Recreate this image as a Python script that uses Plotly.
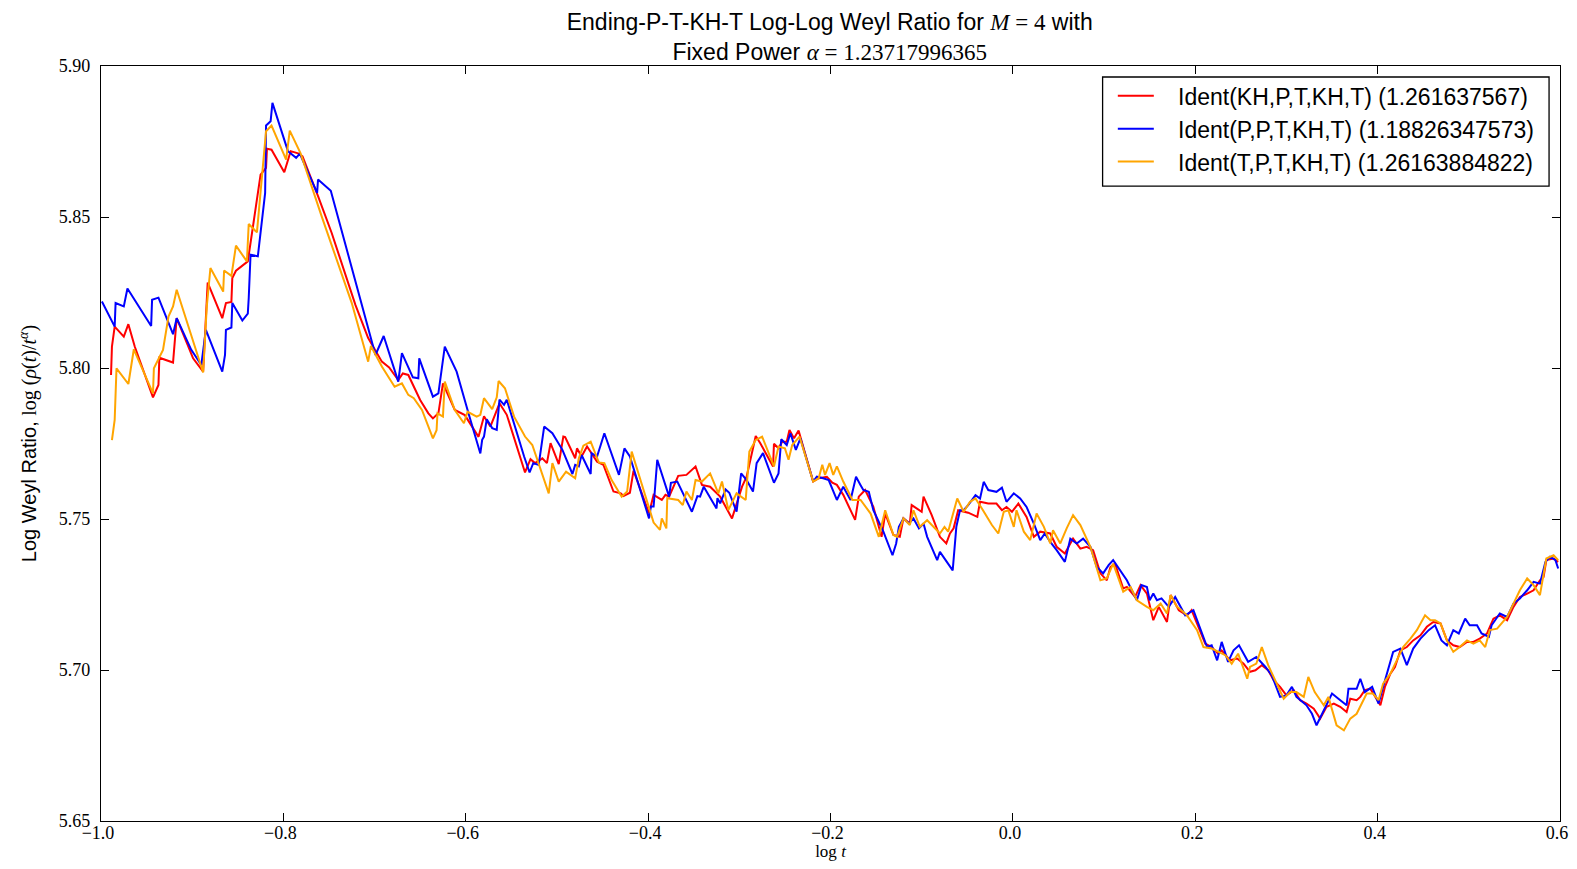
import plotly.graph_objects as go

# Ident(KH,P,T,KH,T)
red_x = [-0.989, -0.988, -0.985, -0.975, -0.970, -0.963, -0.943, -0.937, -0.936, -0.921, -0.917, -0.899,
         -0.888, -0.883, -0.867, -0.863, -0.857, -0.856, -0.852, -0.839, -0.825, -0.819, -0.818, -0.813,
         -0.799, -0.792, -0.783, -0.779, -0.762, -0.747, -0.721, -0.707, -0.692, -0.684, -0.674, -0.669,
         -0.663, -0.650, -0.641, -0.636, -0.630, -0.625, -0.612, -0.601, -0.586, -0.580, -0.573, -0.569,
         -0.563, -0.555, -0.535, -0.529, -0.524, -0.516, -0.511, -0.507, -0.498, -0.493, -0.491, -0.480,
         -0.478, -0.473, -0.467, -0.456, -0.449, -0.438, -0.430, -0.427, -0.420, -0.416, -0.399, -0.394,
         -0.385, -0.381, -0.377, -0.367, -0.358, -0.348, -0.341, -0.332, -0.321, -0.308, -0.303, -0.297,
         -0.292, -0.287, -0.282, -0.277, -0.263, -0.262, -0.257, -0.253, -0.248, -0.245, -0.240, -0.235,
         -0.219, -0.213, -0.204, -0.198, -0.193, -0.186, -0.173, -0.169, -0.166, -0.162, -0.153, -0.144,
         -0.140, -0.131, -0.124, -0.120, -0.113, -0.111, -0.100, -0.098, -0.089, -0.080, -0.073, -0.069,
         -0.065, -0.060, -0.049, -0.039, -0.036, -0.027, -0.018, -0.012, -0.007, -0.001, 0.006, 0.015,
         0.023, 0.030, 0.041, 0.048, 0.057, 0.066, 0.074, 0.081, 0.088, 0.096, 0.103, 0.107, 0.112,
         0.121, 0.125, 0.134, 0.140, 0.147, 0.154, 0.160, 0.169, 0.173, 0.182, 0.191, 0.196, 0.202,
         0.211, 0.218, 0.225, 0.229, 0.238, 0.246, 0.253, 0.260, 0.266, 0.273, 0.280, 0.286, 0.293,
         0.300, 0.308, 0.315, 0.322, 0.330, 0.337, 0.344, 0.352, 0.359, 0.366, 0.370, 0.377, 0.381,
         0.386, 0.392, 0.399, 0.403, 0.408, 0.414, 0.419, 0.425, 0.432, 0.439, 0.447, 0.454, 0.461,
         0.469, 0.476, 0.483, 0.490, 0.498, 0.505, 0.512, 0.520, 0.527, 0.534, 0.542, 0.549, 0.556,
         0.564, 0.571, 0.578, 0.582, 0.585, 0.593, 0.598]
red_y = [5.7977, 5.8071, 5.8137, 5.8104, 5.8145, 5.8071, 5.7903, 5.7944, 5.8034, 5.8018, 5.8165, 5.8032,
         5.7988, 5.8283, 5.8165, 5.8215, 5.8219, 5.8298, 5.8322, 5.8353, 5.8640, 5.8663, 5.8726, 5.8723,
         5.8648, 5.8718, 5.8710, 5.8701, 5.8569, 5.8447, 5.8209, 5.8099, 5.8021, 5.8002, 5.7960, 5.7982,
         5.7977, 5.7894, 5.7850, 5.7833, 5.7850, 5.7949, 5.7861, 5.7844, 5.7772, 5.7840, 5.7806, 5.7839,
         5.7883, 5.7845, 5.7654, 5.7698, 5.7685, 5.7701, 5.7685, 5.7751, 5.7682, 5.7773, 5.7771, 5.7701,
         5.7734, 5.7707, 5.7740, 5.7690, 5.7679, 5.7591, 5.7585, 5.7576, 5.7587, 5.7660, 5.7519, 5.7580,
         5.7563, 5.7580, 5.7574, 5.7643, 5.7646, 5.7674, 5.7613, 5.7607, 5.7574, 5.7502, 5.7552, 5.7607,
         5.7640, 5.7712, 5.7775, 5.7751, 5.7674, 5.7749, 5.7734, 5.7756, 5.7756, 5.7795, 5.7767, 5.7793,
         5.7624, 5.7635, 5.7640, 5.7620, 5.7613, 5.7580, 5.7497, 5.7574, 5.7585, 5.7596, 5.7540, 5.7441,
         5.7518, 5.7447, 5.7441, 5.7502, 5.7485, 5.7546, 5.7524, 5.7574, 5.7513, 5.7441, 5.7419, 5.7452,
         5.7469, 5.7529, 5.7521, 5.7507, 5.7557, 5.7551, 5.7551, 5.7529, 5.7540, 5.7524, 5.7551, 5.7507,
         5.7441, 5.7458, 5.7452, 5.7408, 5.7386, 5.7435, 5.7402, 5.7408, 5.7397, 5.7320, 5.7297, 5.7341, 5.7352,
         5.7270, 5.7275, 5.7242, 5.7281, 5.7253, 5.7165, 5.7209, 5.7159, 5.7248, 5.7198, 5.7181, 5.7198, 5.7154,
         5.7087, 5.7076, 5.7054, 5.7065, 5.7032, 5.7038, 5.7021, 5.6994, 5.6999, 5.7016, 5.6999, 5.6966, 5.6944,
         5.6916, 5.6933, 5.6900, 5.6889, 5.6872, 5.6839, 5.6878, 5.6889, 5.6878, 5.6861, 5.6905, 5.6900, 5.6911,
         5.6933, 5.6938, 5.6900, 5.6883, 5.6944, 5.6988, 5.7010, 5.7065, 5.7076, 5.7098, 5.7115, 5.7143, 5.7159,
         5.7154, 5.7098, 5.7082, 5.7076, 5.7093, 5.7093, 5.7104, 5.7121, 5.7170, 5.7181, 5.7165, 5.7209, 5.7242,
         5.7253, 5.7264, 5.7297, 5.7308, 5.7364, 5.7369, 5.7358]

# Ident(P,P,T,KH,T)
blue_x = [-0.999, -0.985, -0.984, -0.975, -0.971, -0.955, -0.945, -0.944, -0.937, -0.921, -0.917, -0.901,
          -0.890, -0.885, -0.867, -0.864, -0.863, -0.857, -0.856, -0.845, -0.839, -0.838, -0.836, -0.828,
          -0.826, -0.820, -0.819, -0.814, -0.812, -0.795, -0.786, -0.782, -0.763, -0.762, -0.748, -0.699,
          -0.690, -0.674, -0.670, -0.658, -0.652, -0.651, -0.636, -0.630, -0.623, -0.610, -0.597, -0.584,
          -0.582, -0.580, -0.577, -0.571, -0.566, -0.563, -0.558, -0.555, -0.536, -0.530, -0.526, -0.520,
          -0.514, -0.505, -0.494, -0.483, -0.480, -0.476, -0.473, -0.463, -0.462, -0.456, -0.452, -0.448,
          -0.432, -0.426, -0.420, -0.399, -0.397, -0.394, -0.390, -0.377, -0.375, -0.368, -0.352, -0.346,
          -0.343, -0.339, -0.325, -0.324, -0.321, -0.315, -0.311, -0.303, -0.298, -0.292, -0.285, -0.281,
          -0.274, -0.262, -0.257, -0.254, -0.248, -0.244, -0.238, -0.233, -0.219, -0.215, -0.208, -0.202,
          -0.193, -0.186, -0.178, -0.172, -0.167, -0.164, -0.158, -0.153, -0.142, -0.132, -0.128, -0.125,
          -0.120, -0.114, -0.109, -0.103, -0.098, -0.094, -0.083, -0.080, -0.066, -0.062, -0.058, -0.054,
          -0.049, -0.041, -0.036, -0.032, -0.027, -0.018, -0.012, -0.007, 0.001, 0.008, 0.015, 0.023,
          0.030, 0.035, 0.041, 0.048, 0.057, 0.063, 0.070, 0.077, 0.085, 0.092, 0.099, 0.105, 0.110,
          0.118, 0.125, 0.136, 0.141, 0.147, 0.150, 0.154, 0.158, 0.163, 0.171, 0.178, 0.183, 0.189,
          0.198, 0.205, 0.213, 0.218, 0.224, 0.229, 0.236, 0.242, 0.248, 0.258, 0.267, 0.277, 0.284,
          0.293, 0.300, 0.306, 0.311, 0.322, 0.328, 0.333, 0.341, 0.350, 0.357, 0.366, 0.368, 0.377,
          0.381, 0.386, 0.394, 0.401, 0.406, 0.412, 0.417, 0.425, 0.432, 0.439, 0.447, 0.456, 0.463,
          0.470, 0.476, 0.483, 0.489, 0.496, 0.501, 0.509, 0.514, 0.522, 0.525, 0.534, 0.542, 0.549,
          0.556, 0.564, 0.571, 0.578, 0.584, 0.589, 0.595, 0.598]
blue_y = [5.8220, 5.8137, 5.8215, 5.8204, 5.8263, 5.8187, 5.8139, 5.8226, 5.8233, 5.8112, 5.8165, 5.8060,
          5.8010, 5.8126, 5.7988, 5.8043, 5.8126, 5.8134, 5.8215, 5.8157, 5.8180, 5.8231, 5.8375, 5.8370,
          5.8419, 5.8580, 5.8803, 5.8817, 5.8878, 5.8718, 5.8696, 5.8710, 5.8580, 5.8624, 5.8587, 5.8043,
          5.8106, 5.7955, 5.8049, 5.7969, 5.7966, 5.8032, 5.7905, 5.7916, 5.8071, 5.7988, 5.7850, 5.7717,
          5.7762, 5.7773, 5.7830, 5.7801, 5.7795, 5.7895, 5.7878, 5.7895, 5.7707, 5.7654, 5.7685, 5.7679,
          5.7806, 5.7784, 5.7729, 5.7649, 5.7679, 5.7674, 5.7712, 5.7649, 5.7718, 5.7707, 5.7745, 5.7784,
          5.7646, 5.7734, 5.7707, 5.7502, 5.7541, 5.7541, 5.7696, 5.7574, 5.7620, 5.7624, 5.7524, 5.7576,
          5.7574, 5.7607, 5.7535, 5.7569, 5.7552, 5.7598, 5.7587, 5.7524, 5.7651, 5.7629, 5.7591, 5.7685,
          5.7718, 5.7620, 5.7651, 5.7764, 5.7745, 5.7784, 5.7729, 5.7767, 5.7624, 5.7640, 5.7635, 5.7629,
          5.7563, 5.7607, 5.7563, 5.7640, 5.7612, 5.7596, 5.7590, 5.7529, 5.7458, 5.7380, 5.7419, 5.7474,
          5.7502, 5.7485, 5.7502, 5.7469, 5.7485, 5.7441, 5.7364, 5.7391, 5.7330, 5.7474, 5.7529, 5.7529,
          5.7546, 5.7579, 5.7568, 5.7623, 5.7596, 5.7590, 5.7604, 5.7557, 5.7585, 5.7568, 5.7540, 5.7485,
          5.7430, 5.7452, 5.7424, 5.7397, 5.7358, 5.7435, 5.7419, 5.7435, 5.7408, 5.7341, 5.7320, 5.7347, 5.7364,
          5.7330, 5.7297, 5.7231, 5.7281, 5.7275, 5.7231, 5.7253, 5.7231, 5.7237, 5.7209, 5.7242, 5.7215, 5.7181,
          5.7198, 5.7143, 5.7076, 5.7082, 5.7032, 5.7093, 5.7027, 5.7065, 5.7082, 5.7027, 5.7043, 5.7010, 5.6982,
          5.6911, 5.6916, 5.6944, 5.6911, 5.6883, 5.6855, 5.6817, 5.6866, 5.6922, 5.6905, 5.6883, 5.6938, 5.6938,
          5.6971, 5.6927, 5.6944, 5.6889, 5.6944, 5.7005, 5.7060, 5.7071, 5.7016, 5.7071, 5.7104, 5.7132, 5.7148,
          5.7098, 5.7082, 5.7132, 5.7121, 5.7170, 5.7148, 5.7148, 5.7121, 5.7110, 5.7148, 5.7187, 5.7176, 5.7220,
          5.7237, 5.7264, 5.7292, 5.7286, 5.7358, 5.7375, 5.7364, 5.7336]

# Ident(T,P,T,KH,T)
orange_x = [-0.988, -0.985, -0.983, -0.970, -0.964, -0.943, -0.942, -0.936, -0.932, -0.926, -0.921, -0.917,
            -0.888, -0.884, -0.880, -0.866, -0.865, -0.857, -0.852, -0.840, -0.838, -0.829, -0.822, -0.819,
            -0.813, -0.797, -0.793, -0.781, -0.758, -0.725, -0.707, -0.704, -0.692, -0.678, -0.670, -0.663,
            -0.657, -0.648, -0.636, -0.632, -0.631, -0.625, -0.623, -0.612, -0.602, -0.598, -0.588, -0.584,
            -0.580, -0.571, -0.566, -0.564, -0.557, -0.547, -0.535, -0.527, -0.509, -0.505, -0.498, -0.490,
            -0.480, -0.476, -0.471, -0.463, -0.454, -0.448, -0.440, -0.429, -0.423, -0.418, -0.405, -0.394,
            -0.387, -0.385, -0.380, -0.379, -0.367, -0.362, -0.358, -0.352, -0.348, -0.341, -0.332, -0.323,
            -0.319, -0.312, -0.303, -0.293, -0.289, -0.282, -0.275, -0.262, -0.257, -0.250, -0.246, -0.242,
            -0.234, -0.219, -0.213, -0.209, -0.206, -0.201, -0.197, -0.193, -0.186, -0.176, -0.167, -0.156,
            -0.147, -0.140, -0.131, -0.127, -0.120, -0.113, -0.109, -0.102, -0.094, -0.080, -0.075, -0.071,
            -0.061, -0.054, -0.047, -0.041, -0.034, -0.023, -0.016, -0.010, -0.005, 0.001, 0.004, 0.012,
            0.019, 0.026, 0.034, 0.041, 0.044, 0.052, 0.059, 0.066, 0.074, 0.085, 0.096, 0.103, 0.110,
            0.121, 0.129, 0.136, 0.147, 0.154, 0.162, 0.169, 0.173, 0.180, 0.183, 0.191, 0.202, 0.209,
            0.218, 0.225, 0.233, 0.240, 0.247, 0.257, 0.260, 0.267, 0.273, 0.280, 0.289, 0.297, 0.304,
            0.311, 0.319, 0.324, 0.331, 0.341, 0.346, 0.355, 0.363, 0.370, 0.377, 0.383, 0.388, 0.395,
            0.401, 0.406, 0.414, 0.421, 0.428, 0.436, 0.443, 0.452, 0.458, 0.463, 0.469, 0.476, 0.483,
            0.490, 0.498, 0.505, 0.512, 0.518, 0.523, 0.531, 0.542, 0.549, 0.556, 0.564, 0.571, 0.578,
            0.585, 0.593, 0.598]
orange_y = [5.7761, 5.7828, 5.7999, 5.7947, 5.8062, 5.7916, 5.7999, 5.8034, 5.8060, 5.8170, 5.8204, 5.8259,
            5.7985, 5.8204, 5.8331, 5.8253, 5.8323, 5.8305, 5.8405, 5.8353, 5.8477, 5.8449, 5.8679, 5.8784,
            5.8803, 5.8690, 5.8786, 5.8710, 5.8502, 5.8215, 5.8021, 5.8073, 5.8005, 5.7938, 5.7949, 5.7911,
            5.7900, 5.7861, 5.7767, 5.7794, 5.7850, 5.7839, 5.7955, 5.7861, 5.7817, 5.7855, 5.7839, 5.7845,
            5.7900, 5.7864, 5.7903, 5.7957, 5.7933, 5.7839, 5.7773, 5.7745, 5.7585, 5.7685, 5.7624, 5.7657,
            5.7635, 5.7701, 5.7743, 5.7756, 5.7687, 5.7685, 5.7629, 5.7574, 5.7591, 5.7723, 5.7596, 5.7488,
            5.7464, 5.7502, 5.7469, 5.7569, 5.7563, 5.7546, 5.7591, 5.7563, 5.7629, 5.7624, 5.7651, 5.7585,
            5.7624, 5.7530, 5.7585, 5.7563, 5.7723, 5.7762, 5.7773, 5.7674, 5.7740, 5.7734, 5.7696, 5.7745,
            5.7773, 5.7624, 5.7635, 5.7680, 5.7646, 5.7685, 5.7646, 5.7674, 5.7624, 5.7563, 5.7563, 5.7518,
            5.7441, 5.7529, 5.7447, 5.7441, 5.7502, 5.7480, 5.7529, 5.7474, 5.7496, 5.7452, 5.7474, 5.7458,
            5.7568, 5.7524, 5.7557, 5.7568, 5.7535, 5.7480, 5.7452, 5.7524, 5.7529, 5.7474, 5.7529, 5.7458,
            5.7430, 5.7518, 5.7474, 5.7419, 5.7463, 5.7419, 5.7469, 5.7513, 5.7480, 5.7408, 5.7297, 5.7303, 5.7352,
            5.7259, 5.7275, 5.7231, 5.7209, 5.7198, 5.7220, 5.7187, 5.7248, 5.7209, 5.7203, 5.7181, 5.7132, 5.7076,
            5.7071, 5.7060, 5.7049, 5.7021, 5.7054, 5.6971, 5.7010, 5.7021, 5.7076, 5.7016, 5.6955, 5.6905, 5.6927,
            5.6927, 5.6911, 5.6977, 5.6927, 5.6883, 5.6911, 5.6817, 5.6800, 5.6839, 5.6855, 5.6894, 5.6922, 5.6922,
            5.6900, 5.6955, 5.6988, 5.7032, 5.7076, 5.7104, 5.7132, 5.7181, 5.7165, 5.7165, 5.7154, 5.7098, 5.7060,
            5.7076, 5.7098, 5.7087, 5.7098, 5.7076, 5.7132, 5.7137, 5.7176, 5.7220, 5.7264, 5.7303, 5.7281, 5.7248,
            5.7369, 5.7380, 5.7364]

series = [
    ("Ident(KH,P,T,KH,T) (1.261637567)", red_x, red_y, "#ff0000"),
    ("Ident(P,P,T,KH,T) (1.18826347573)", blue_x, blue_y, "#0000ff"),
    ("Ident(T,P,T,KH,T) (1.26163884822)", orange_x, orange_y, "#ffa500"),
]

x_ticks = [-1.0, -0.8, -0.6, -0.4, -0.2, 0.0, 0.2, 0.4, 0.6]
y_ticks = [5.65, 5.70, 5.75, 5.80, 5.85, 5.90]

SERIF = "Liberation Serif"
SANS = "Liberation Sans"
GAP = "\u00a0" * 3


def math(s):
    return f"<span style='font-family:{SERIF}'>{s}</span>"


fig = go.Figure()
for i, (name, xs, ys, color) in enumerate(series):
    fig.add_trace(go.Scatter(x=xs, y=ys, mode="lines", name=GAP + name, legendgroup=f"g{i}",
                             line=dict(color=color, width=2)))

title = ("Ending-P-T-KH-T Log-Log Weyl Ratio for " + math("<i>M</i> = 4") + " with<br>"
         + "Fixed Power " + math("<i>α</i> = 1.23717996365"))

axis_common = dict(showline=True, linecolor="black", linewidth=1.3, mirror="ticks",
                   ticks="inside", ticklen=8, tickcolor="black", showgrid=False,
                   zeroline=False, automargin=False, ticklabeloverflow="allow",
                   tickfont=dict(family=SERIF, size=18, color="black"))

# legend frame, drawn as a box so its padding matches
fig.add_shape(type="rect", xref="paper", yref="paper", x0=0.6865, x1=0.9925, y0=0.841, y1=0.9854,
              line=dict(color="black", width=1.3), fillcolor="white", layer="above")

fig.update_layout(
    title=dict(text=title, x=0.5264, xanchor="center", y=0.974, yanchor="top",
               font=dict(family=SANS, size=23, color="black")),
    plot_bgcolor="white",
    paper_bgcolor="white",
    margin=dict(l=93, r=9, t=58, b=40),
    showlegend=True,
    legend=dict(x=0.6935, xanchor="left", y=0.989, yanchor="top",
                borderwidth=0, bgcolor="rgba(0,0,0,0)",
                itemwidth=36, tracegroupgap=4, traceorder="normal",
                font=dict(family=SANS, size=23, color="black")),
    xaxis=dict(range=[-1.0, 0.6], tickvals=x_ticks, tickformat=".1f",
               ticklabelstandoff=-5, ticklabelshift=-3,
               title=dict(text=math("log <i>t</i>"), standoff=4,
                          font=dict(family=SERIF, size=17, color="black")),
               **axis_common),
    yaxis=dict(range=[5.65, 5.90], tickvals=y_ticks, tickformat=".2f", ticklabelstandoff=6,
               title=dict(text="Log Weyl Ratio, " + math("log (<i>ρ</i>(<i>t</i>)/<i>t</i><sup><i>α</i></sup>)"),
                          standoff=16, font=dict(family=SANS, size=20, color="black")),
               **axis_common),
)

fig.write_html("out.html")
